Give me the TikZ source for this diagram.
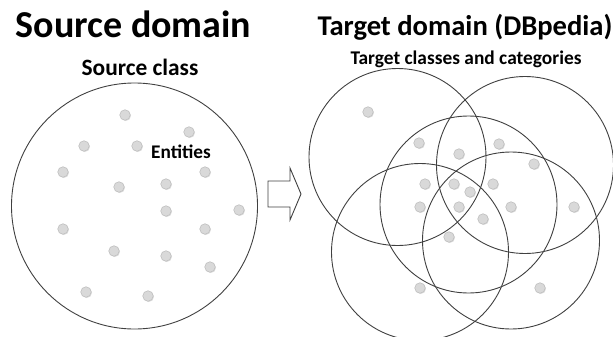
\documentclass[tikz,border=0pt]{standalone}
\usepackage{fontspec}
\setmainfont{Carlito}
\begin{document}
\begin{tikzpicture}[x=1pt,y=-1pt,
  settitle/.style={font=\bfseries\fontsize{38}{40}\selectfont, inner sep=0pt, anchor=base},
  subtitle/.style={font=\bfseries\fontsize{23.4}{26}\selectfont, inner sep=0pt, anchor=base},
  tgttitle/.style={font=\bfseries\fontsize{28.6}{31}\selectfont, inner sep=0pt, anchor=base},
  smalltitle/.style={font=\bfseries\fontsize{19.4}{22}\selectfont, inner sep=0pt, anchor=base},
  setring/.style={circle, draw=black!75, line width=0.9pt, inner sep=0pt, minimum size=#1},
  entity/.style={circle, fill=black!15, draw=black!25, line width=0.6pt, inner sep=0pt, minimum size=10.5pt,
    preaction={fill=black!12, transform canvas={xshift=0.8pt,yshift=-0.8pt}}},
  blockarrow/.style={draw=black!75, line width=0.9pt, fill=white, line join=miter}
]
\useasboundingbox (0,0) rectangle (613,337);

% headings
\node[settitle] (srcdom) at (133.5,38) {Source domain};
\node[subtitle] (srccls) at (140,76) {Source class};
\node[tgttitle] (tgtdom) at (465,36) {Target domain (DBpedia)};
\node[smalltitle] (tgtcls) at (466,64) {Target classes and categories};

% source class with its entities
\node[setring=246pt] (src) at (134.5,206) {};
\node[font=\bfseries\fontsize{19.3}{21}\selectfont, inner sep=0pt] (ent) at (181,152) {Entities};
\foreach \x/\y [count=\i] in {125/115, 189/132, 84/146, 137/146, 63/172, 205/172, 119/187,
    166/184, 166/211, 239/210, 63/229, 205/229, 114/251, 166/256, 210/267, 86/292, 148/296}
  \node[entity] (s\i) at (\x,\y) {};

% mapping arrow
\coordinate (a0) at (268,181);
\draw[blockarrow] (a0) -- (290,181) -- (290,168) -- (301,194) -- (290,220) -- (290,207) -- (268,207) -- cycle;

% target classes and categories
\node[setring=177pt] (ta) at (397.5,157) {};
\node[setring=177pt] (tb) at (525,165) {};
\node[setring=177pt] (tc) at (468.5,204.5) {};
\node[setring=177pt] (td) at (420,252) {};
\node[setring=177pt] (te) at (511,240.5) {};

% entities in the target domain
\foreach \x/\y [count=\i] in {368/112, 419/143, 459/154, 499/144, 534/164, 425/184, 454/184,
    470/192, 493/184, 420/207, 459/207, 483/219, 511/207, 574/207, 449/237, 420/288, 540/288}
  \node[entity] (t\i) at (\x,\y) {};
\end{tikzpicture}
\end{document}
